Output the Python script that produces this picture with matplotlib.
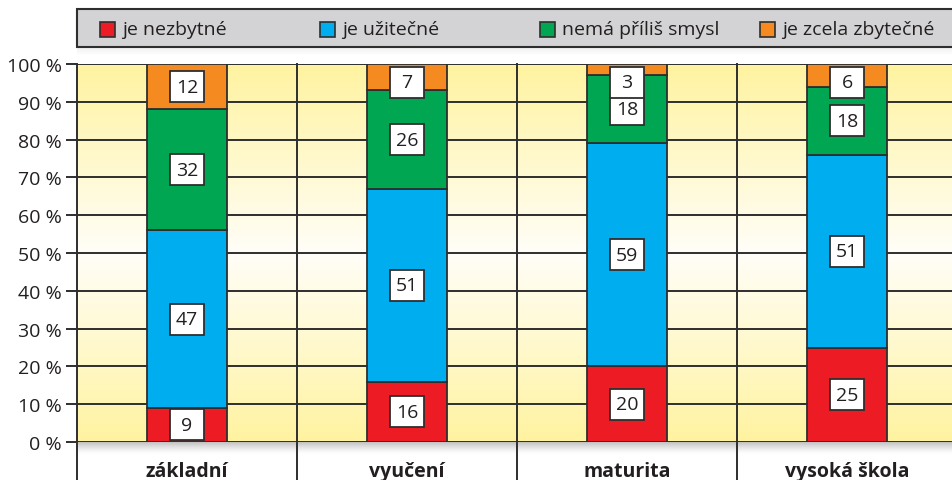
import numpy as np
import matplotlib
matplotlib.use("Agg")
import matplotlib.pyplot as plt
from matplotlib.patches import Rectangle
from matplotlib.colors import LinearSegmentedColormap

plt.rcParams['font.family'] = ['Open Sans', 'DejaVu Sans']

# data
categories = ['základní', 'vyučení', 'maturita', 'vysoká škola']
series_names = ['je nezbytné', 'je užitečné', 'nemá příliš smysl', 'je zcela zbytečné']
nezbytne = [9, 16, 20, 25]
uzitecne = [47, 51, 59, 51]
nema_smysl = [32, 26, 18, 18]
zbytecne = [12, 7, 3, 6]
yticks = list(range(0, 101, 10))
ytick_labels = [f'{t} %' for t in yticks]

colors = ['#ED1C24', '#00AEEF', '#00A651', '#F58A20']
edge = '#2E2E2E'
text_col = '#231F20'
fs = 14

W, H = 952, 481
fig = plt.figure(figsize=(W / 100, H / 100), dpi=100)
fig.patch.set_facecolor('white')

# plot area in pixels
left, top, bottom = 77, 65, 443
cat_w = 220
ax = fig.add_axes([left / W, (H - bottom) / H, (W - left) / W, (bottom - top) / H])

# yellow - white - yellow background
cmap = LinearSegmentedColormap.from_list('bg', ['#FFF3A0', '#FFFEF8', '#FFF3A0'])
grad = np.linspace(0, 1, 256).reshape(-1, 1)
ax.imshow(grad, cmap=cmap, extent=[0, 1, 0, 1], transform=ax.transAxes,
          aspect='auto', zorder=0, interpolation='bicubic')
ax.set_xlim(0, (W - left) / cat_w)
ax.set_ylim(0, 100)

# shadow under plot area
px = 1 / (bottom - top)
for k in range(12):
    ax.add_patch(Rectangle((0, -(k + 1) * px), 1.01, px, transform=ax.transAxes,
                           facecolor='#555555', alpha=0.35 * (1 - k / 12) ** 1.5,
                           lw=0, clip_on=False, zorder=1))

# grid
for t in yticks:
    ax.axhline(t, color=edge, lw=1.4, zorder=2)
for xv in [0, 1, 2, 3]:
    ax.axvline(xv, ymin=-0.12, ymax=1, color=edge, lw=1.4, zorder=2, clip_on=False)

# stacked bars
x = np.arange(len(categories)) + 0.5
bw = 80 / cat_w
data = [nezbytne, uzitecne, nema_smysl, zbytecne]
bottoms = np.zeros(len(categories))
box_w = 34 / cat_w
box_h = 31 / ((bottom - top) / 100)
for vals, col in zip(data, colors):
    vals = np.array(vals)
    ax.bar(x, vals, bw, bottom=bottoms, color=col, edgecolor=edge, lw=1.3, zorder=3)
    for xi, b, v in zip(x, bottoms, vals):
        yc = min(b + v / 2, 100 - box_h / 2 - 3 / 3.78)
        ax.add_patch(Rectangle((xi - box_w / 2, yc - box_h / 2), box_w, box_h,
                               facecolor='white', edgecolor=edge, lw=1.3, zorder=4))
        ax.text(xi, yc, str(v), ha='center', va='center', fontsize=fs,
                color=text_col, zorder=5)
    bottoms += vals

ax.set_yticks(yticks)
ax.set_yticklabels(ytick_labels, fontsize=fs, color=text_col)
ax.tick_params(axis='y', length=8, width=1.4, color=edge, pad=3)
ax.set_xticks([])
for s in ax.spines.values():
    s.set_visible(False)

# category labels
for xi, c in zip(x, categories):
    ax.text(xi, (bottom - 477) / (bottom - top), c, transform=ax.get_xaxis_transform(),
            ha='center', va='baseline', fontsize=fs, fontweight='bold', color=text_col)

# legend box
for k in range(8):
    fig.patches.append(Rectangle((left / W, (H - 48 - k - 1) / H), 1, 1 / H,
                                 transform=fig.transFigure, facecolor='#888888',
                                 alpha=0.12 * (1 - k / 8), lw=0, zorder=0))
fig.patches.append(Rectangle((left / W, (H - 48) / H), 1, 38 / H,
                             transform=fig.transFigure, facecolor='#D3D3D5',
                             edgecolor=edge, lw=1.5, zorder=1))
sq = 15
for i, (name, col) in enumerate(zip(series_names, colors)):
    x0 = 100 + cat_w * i
    fig.patches.append(Rectangle((x0 / W, (H - 30 - sq / 2) / H), sq / W, sq / H,
                                 transform=fig.transFigure, facecolor=col,
                                 edgecolor=edge, lw=1.2, zorder=2))
    fig.text((x0 + 22) / W, (H - 30) / H, name, ha='left', va='center',
             fontsize=fs, color=text_col)

fig.savefig('out.png', dpi=100)
